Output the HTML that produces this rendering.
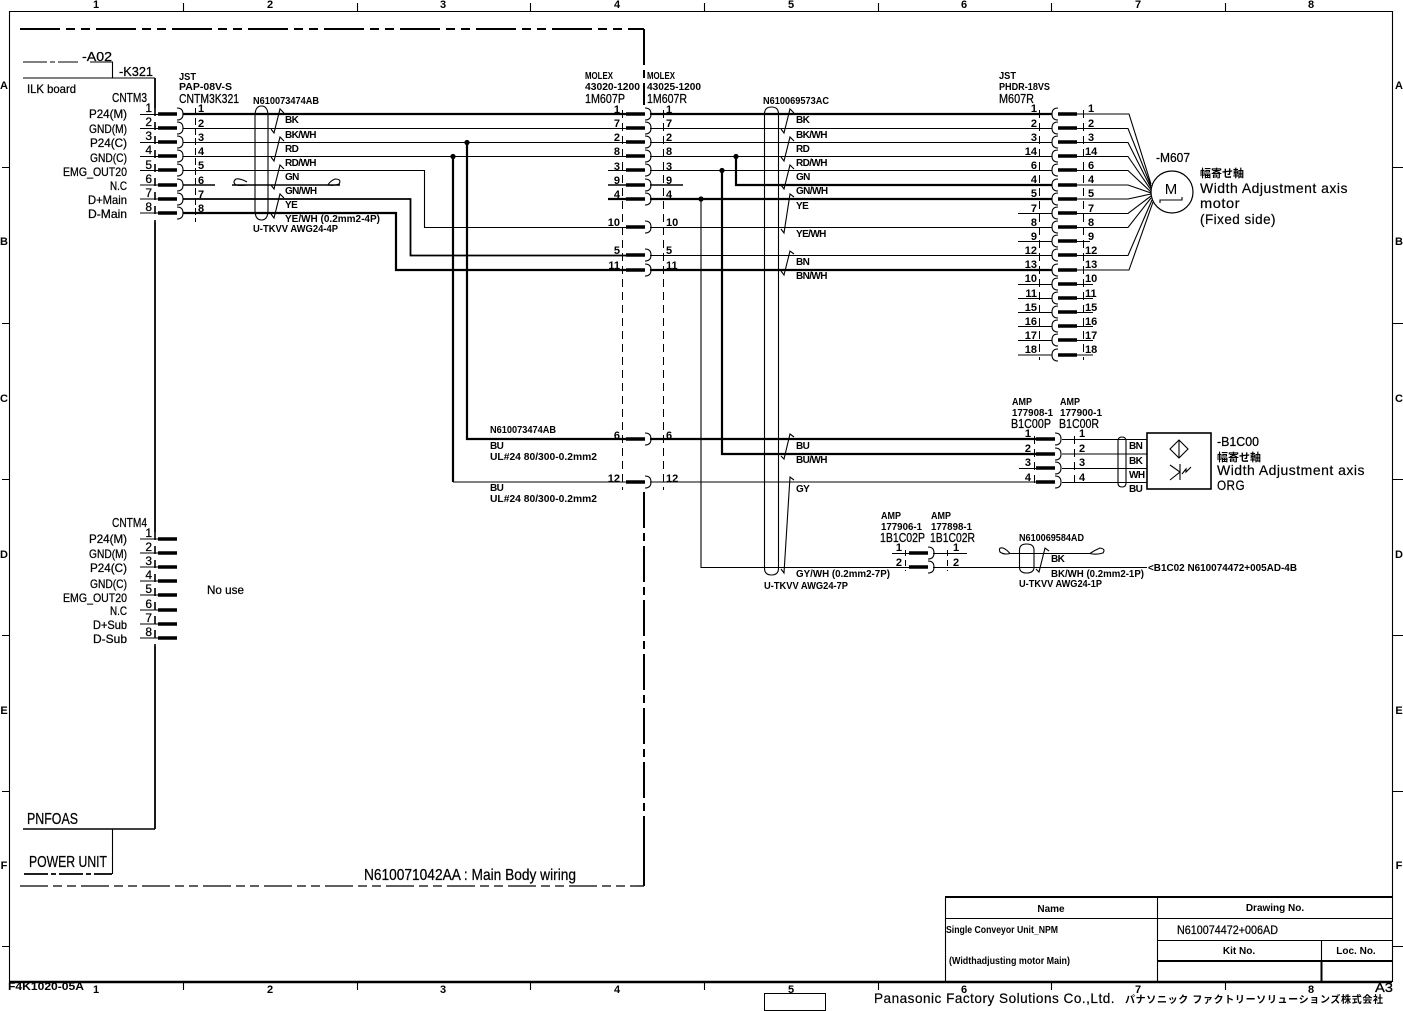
<!DOCTYPE html>
<html><head><meta charset="utf-8"><title>N610074472+006AD</title>
<style>
html,body{margin:0;padding:0;background:#fff}
svg{display:block}
text{font-family:"Liberation Sans","Noto Sans CJK JP",sans-serif;fill:#000}
.s{font-size:10px;font-weight:bold}
.p{font-size:12px;stroke:#000;stroke-width:.25}
.l{font-size:12px;stroke:#000;stroke-width:.25}
.b{font-size:14px;stroke:#000;stroke-width:.25}
.f{font-size:14px;letter-spacing:.5px;stroke:#000;stroke-width:.2}
.e{text-anchor:end}
.m{text-anchor:middle}
.t{stroke:#000;stroke-width:1.1;fill:none}
.k{stroke:#000;stroke-width:2.2;fill:none}
.d{stroke:#000;stroke-width:1;fill:none;stroke-dasharray:7 3}
.pn text{font-size:11px}
.wl text{letter-spacing:-.6px}
</style></head><body>
<svg xmlns="http://www.w3.org/2000/svg" width="1403" height="1011" viewBox="0 0 1403 1011">
<defs>
<g id="cr"><path d="M0 0H19" stroke="#000" stroke-width="3.4" fill="none"/><path d="M19-6Q25-6 25 0Q25 6 19 6" class="t"/></g>
<g id="cl"><path d="M0 0H19" stroke="#000" stroke-width="3.4" fill="none"/><path d="M0-6Q-6-6-6 0Q-6 6 0 6" class="t"/></g>
<path id="tw" d="M-3-2L0 2L6-22L10-18" class="t"/>
</defs>

<!-- frame -->
<path d="M9.5 982V11.5H1392.5V982" class="t"/>
<path d="M9 982H1392" stroke="#000" stroke-width="2.6"/>
<path d="M183.5 3V11M357.5 3V11M530.5 3V11M704.5 3V11M878.5 3V11M1051.5 3V11M1225.5 3V11M183.5 982V990M357.5 982V990M530.5 982V990M704.5 982V990M878.5 982V990M1051.5 982V990M1225.5 982V990M2 167.5H9M2 323.5H9M2 479.5H9M2 635.5H9M2 791.5H9M2 946.5H9M1392 167.5H1403M1392 323.5H1403M1392 479.5H1403M1392 635.5H1403M1392 791.5H1403M1392 946.5H1403" class="t"/>
<g class="pn">
<text class="s m" x="96" y="8">1</text><text class="s m" x="270" y="8">2</text><text class="s m" x="443" y="8">3</text><text class="s m" x="617" y="8">4</text><text class="s m" x="791" y="8">5</text><text class="s m" x="964" y="8">6</text><text class="s m" x="1138" y="8">7</text><text class="s m" x="1311" y="8">8</text>
<text class="s m" x="96" y="993">1</text><text class="s m" x="270" y="993">2</text><text class="s m" x="443" y="993">3</text><text class="s m" x="617" y="993">4</text><text class="s m" x="791" y="993">5</text><text class="s m" x="964" y="993">6</text><text class="s m" x="1138" y="993">7</text><text class="s m" x="1311" y="993">8</text>
<text class="s m" x="4" y="89">A</text><text class="s m" x="4" y="245">B</text><text class="s m" x="4" y="402">C</text><text class="s m" x="4" y="558">D</text><text class="s m" x="4" y="714">E</text><text class="s m" x="4" y="869">F</text>
<text class="s m" x="1399" y="89">A</text><text class="s m" x="1399" y="245">B</text><text class="s m" x="1399" y="402">C</text><text class="s m" x="1399" y="558">D</text><text class="s m" x="1399" y="714">E</text><text class="s m" x="1399" y="869">F</text>
</g>

<!-- body outline -->
<path d="M20 29H644" stroke="#000" stroke-width="2" fill="none" stroke-dasharray="40 6 9 6 9 6"/>
<path d="M644 29V105" stroke="#000" stroke-width="2" fill="none" stroke-dasharray="36 5 8 5"/>
<path d="M644 492V850" stroke="#000" stroke-width="2" fill="none" stroke-dasharray="36 5 8 5"/>
<path d="M644 850V886" stroke="#000" stroke-width="2" fill="none"/>
<path d="M20 886H644" stroke="#000" stroke-width="1.3" fill="none" stroke-dasharray="28 5 9 5 9 5"/>

<!-- boards -->
<path d="M23 62H47M50 62H55M58 62H78M90 62H112.5V78M23 78H155" class="t"/>
<path d="M155 78V108M155 222V532M155 646V829" stroke="#000" stroke-width="1.8" fill="none"/>
<path d="M155 108V222M155 532V646" stroke="#000" stroke-width="1.6" fill="none" stroke-dasharray="8 6"/>
<path d="M23 829H155" stroke="#000" stroke-width="1.5"/>
<path d="M112.5 829V874" class="t"/>
<path d="M24 874H112" stroke="#000" stroke-width="1.8" stroke-dasharray="24 3 5 3"/>
<text class="l" x="82" y="61" textLength="30" lengthAdjust="spacingAndGlyphs" style="font-size:13px">-A02</text>
<text class="l" x="119" y="76" textLength="34" lengthAdjust="spacingAndGlyphs" style="font-size:13px">-K321</text>
<text class="l" x="27" y="93" textLength="49" lengthAdjust="spacingAndGlyphs">ILK board</text>
<text class="l" x="112" y="102" textLength="35" lengthAdjust="spacingAndGlyphs" style="font-size:13px">CNTM3</text>
<text class="l" x="112" y="527" textLength="35" lengthAdjust="spacingAndGlyphs" style="font-size:13px">CNTM4</text>
<text class="s" x="179" y="80" textLength="17" lengthAdjust="spacingAndGlyphs">JST</text>
<text class="s" x="179" y="90" textLength="53" lengthAdjust="spacingAndGlyphs">PAP-08V-S</text>
<text class="l" x="179" y="103" textLength="60" lengthAdjust="spacingAndGlyphs" style="font-size:13px">CNTM3K321</text>
<text class="b" x="27" y="824" textLength="51" lengthAdjust="spacingAndGlyphs" style="font-size:16px">PNFOAS</text>
<text class="b" x="29" y="867" textLength="78" lengthAdjust="spacingAndGlyphs" style="font-size:16px">POWER UNIT</text>
<text class="b" x="364" y="880" textLength="212" lengthAdjust="spacingAndGlyphs" style="font-size:16px">N610071042AA : Main Body wiring</text>

<!-- CNTM3 labels -->
<g class="l">
<text class="l" x="89" y="118" textLength="38" lengthAdjust="spacingAndGlyphs">P24(M)</text>
<text class="l" x="89" y="133" textLength="38" lengthAdjust="spacingAndGlyphs">GND(M)</text>
<text class="l" x="90" y="147" textLength="37" lengthAdjust="spacingAndGlyphs">P24(C)</text>
<text class="l" x="90" y="162" textLength="37" lengthAdjust="spacingAndGlyphs">GND(C)</text>
<text class="l" x="63" y="176" textLength="64" lengthAdjust="spacingAndGlyphs">EMG_OUT20</text>
<text class="l" x="110" y="190" textLength="17" lengthAdjust="spacingAndGlyphs">N.C</text>
<text class="l" x="88" y="204" textLength="39" lengthAdjust="spacingAndGlyphs">D+Main</text>
<text class="l" x="88" y="218" textLength="39" lengthAdjust="spacingAndGlyphs">D-Main</text>
<text class="l" x="89" y="543" textLength="38" lengthAdjust="spacingAndGlyphs">P24(M)</text>
<text class="l" x="89" y="558" textLength="38" lengthAdjust="spacingAndGlyphs">GND(M)</text>
<text class="l" x="90" y="572" textLength="37" lengthAdjust="spacingAndGlyphs">P24(C)</text>
<text class="l" x="90" y="588" textLength="37" lengthAdjust="spacingAndGlyphs">GND(C)</text>
<text class="l" x="63" y="602" textLength="64" lengthAdjust="spacingAndGlyphs">EMG_OUT20</text>
<text class="l" x="110" y="615" textLength="17" lengthAdjust="spacingAndGlyphs">N.C</text>
<text class="l" x="93" y="629" textLength="34" lengthAdjust="spacingAndGlyphs">D+Sub</text>
<text class="l" x="93" y="643" textLength="34" lengthAdjust="spacingAndGlyphs">D-Sub</text>
</g>
<text class="l" x="207" y="594" textLength="37" lengthAdjust="spacingAndGlyphs">No use</text>

<!-- pin stubs CNTM -->
<path d="M140 114.5H158M140 128.5H158M140 142.5H158M140 156.5H158M140 170.5H158M140 185H158M140 199H158M140 213H158M140 539H158M140 553H158M140 567H158M140 581H158M140 595H158M140 610H158M140 624H158M140 638H158" class="t"/>
<g>
<use href="#cr" x="158" y="114"/><use href="#cr" x="158" y="128"/><use href="#cr" x="158" y="142"/><use href="#cr" x="158" y="156"/><use href="#cr" x="158" y="170"/><use href="#cr" x="158" y="185"/><use href="#cr" x="158" y="199"/><use href="#cr" x="158" y="213"/>
<path d="M158 539H177M158 553H177M158 567H177M158 581H177M158 595H177M158 610H177M158 624H177M158 638H177" stroke="#000" stroke-width="3.4"/>
</g>
<g>
<text class="p e" x="152" y="112">1</text><text class="p e" x="152" y="126">2</text><text class="p e" x="152" y="140">3</text><text class="p e" x="152" y="154">4</text><text class="p e" x="152" y="169">5</text><text class="p e" x="152" y="183">6</text><text class="p e" x="152" y="197">7</text><text class="p e" x="152" y="211">8</text>
<text class="p e" x="152" y="537">1</text><text class="p e" x="152" y="551">2</text><text class="p e" x="152" y="565">3</text><text class="p e" x="152" y="579">4</text><text class="p e" x="152" y="593">5</text><text class="p e" x="152" y="608">6</text><text class="p e" x="152" y="622">7</text><text class="p e" x="152" y="636">8</text>
</g>
<g class="pn">
<text class="s" x="198" y="112">1</text><text class="s" x="198" y="127">2</text><text class="s" x="198" y="141">3</text><text class="s" x="198" y="155">4</text><text class="s" x="198" y="169">5</text><text class="s" x="198" y="184">6</text><text class="s" x="198" y="198">7</text><text class="s" x="198" y="212">8</text>
</g>
<path d="M195.5 108V222" class="d"/>

<!-- left cable -->
<path d="M255 116Q255 106 261.5 106Q268 106 268 116V210Q268 220 261.5 220Q255 220 255 210Z" class="t"/>
<use href="#tw" x="274" y="131"/><use href="#tw" x="274" y="159"/><use href="#tw" x="274" y="187"/><use href="#tw" x="274" y="216"/>
<text class="s" x="253" y="104" textLength="66" lengthAdjust="spacingAndGlyphs">N610073474AB</text>
<text class="s" x="253" y="232" textLength="85" lengthAdjust="spacingAndGlyphs">U-TKVV AWG24-4P</text>
<g class="wl">
<text class="s" x="285" y="123">BK</text><text class="s" x="285" y="138">BK/WH</text><text class="s" x="285" y="152">RD</text><text class="s" x="285" y="166">RD/WH</text><text class="s" x="285" y="180">GN</text><text class="s" x="285" y="194">GN/WH</text><text class="s" x="285" y="208">YE</text>
</g>
<text class="s" x="285" y="222" textLength="95" lengthAdjust="spacingAndGlyphs">YE/WH (0.2mm2-4P)</text>
<path d="M247 185Q241 186 236 185Q232 182 236 179Q240 178 247 182M328 185Q330 181 335 179Q342 179 339 184Q334 186 328 185" class="t"/>

<!-- wires -->
<path d="M183 114H626M650 114H1052" class="k"/>
<path d="M183 128.5H626M650 128.5H1052M183 142.5H626M650 142.5H1052M183 156.5H626M650 156.5H1052" class="t"/>
<path d="M183 170.5H424.5V227.5H626M608 170.5H626M650 170.5H1052" class="t"/>
<path d="M183 185H215M232 185H340" class="t" style="stroke-width:1.5"/>
<path d="M608 185H626M650 185H683" stroke="#000" stroke-width="1.5"/>
<path d="M183 199H410.5V255.5H626" stroke="#000" stroke-width="1.8" fill="none"/>
<path d="M183 213H396V270H626M650 270H1052" class="k"/>
<path d="M608 199H626M650 199H1052" class="k"/>
<path d="M650 227.5H1052M650 255.5H1052" class="t"/>
<path d="M736 156.5V185H1052" class="k"/>
<path d="M467 142.5V439H626M650 439H1036" class="k"/>
<path d="M453 156.5V482" class="k"/>
<path d="M453 482H626M650 482H1036" class="t"/>
<path d="M722 170.5V454H1036" class="k"/>
<path d="M701 199V567.5H909M933 567.5H1147" class="t"/>
<circle cx="453" cy="156.5" r="2.6"/><circle cx="467" cy="142.5" r="2.6"/><circle cx="736" cy="156.5" r="2.6"/><circle cx="722" cy="170.5" r="2.6"/><circle cx="701" cy="199" r="2.6"/>

<!-- 1M607 -->
<use href="#cr" x="626" y="114"/><use href="#cr" x="626" y="128"/><use href="#cr" x="626" y="142"/><use href="#cr" x="626" y="156"/><use href="#cr" x="626" y="170"/><use href="#cr" x="626" y="185"/><use href="#cr" x="626" y="199"/><use href="#cr" x="626" y="227"/><use href="#cr" x="626" y="255"/><use href="#cr" x="626" y="270"/><use href="#cr" x="626" y="439"/><use href="#cr" x="626" y="482"/>
<path d="M622.5 110V490M663.5 110V490" class="d" style="stroke-dasharray:8 5"/>
<text class="s" x="585" y="79" textLength="28" lengthAdjust="spacingAndGlyphs">MOLEX</text><text class="s" x="585" y="90" textLength="55" lengthAdjust="spacingAndGlyphs">43020-1200</text>
<text class="l" x="585" y="103" textLength="40" lengthAdjust="spacingAndGlyphs" style="font-size:13px">1M607P</text>
<text class="s" x="647" y="79" textLength="28" lengthAdjust="spacingAndGlyphs">MOLEX</text><text class="s" x="647" y="90" textLength="54" lengthAdjust="spacingAndGlyphs">43025-1200</text>
<text class="l" x="647" y="103" textLength="40" lengthAdjust="spacingAndGlyphs" style="font-size:13px">1M607R</text>
<g class="pn">
<text class="s e" x="620" y="113">1</text><text class="s e" x="620" y="127">7</text><text class="s e" x="620" y="141">2</text><text class="s e" x="620" y="155">8</text><text class="s e" x="620" y="170">3</text><text class="s e" x="620" y="184">9</text><text class="s e" x="620" y="198">4</text><text class="s e" x="620" y="226">10</text><text class="s e" x="620" y="254">5</text><text class="s e" x="620" y="269">11</text><text class="s e" x="620" y="439">6</text><text class="s e" x="620" y="482">12</text>
<text class="s" x="666" y="113">1</text><text class="s" x="666" y="127">7</text><text class="s" x="666" y="141">2</text><text class="s" x="666" y="155">8</text><text class="s" x="666" y="170">3</text><text class="s" x="666" y="184">9</text><text class="s" x="666" y="198">4</text><text class="s" x="666" y="226">10</text><text class="s" x="666" y="254">5</text><text class="s" x="666" y="269">11</text><text class="s" x="666" y="439">6</text><text class="s" x="666" y="482">12</text>
</g>

<!-- mid notes -->
<text class="s" x="490" y="433" textLength="66" lengthAdjust="spacingAndGlyphs">N610073474AB</text>
<g class="wl"><text class="s" x="490" y="449">BU</text><text class="s" x="490" y="491">BU</text></g>
<text class="s" x="490" y="460" textLength="107" lengthAdjust="spacingAndGlyphs">UL#24 80/300-0.2mm2</text>
<text class="s" x="490" y="502" textLength="107" lengthAdjust="spacingAndGlyphs">UL#24 80/300-0.2mm2</text>

<!-- main cable -->
<path d="M764.5 114Q764.5 107 771.5 107Q778.5 107 778.5 114V568Q778.5 575 771.5 575Q764.5 575 764.5 568Z" class="t"/>
<use href="#tw" x="784" y="131"/><use href="#tw" x="784" y="159"/><use href="#tw" x="784" y="187"/>
<path d="M781 229L784 233L790 194L794 197" class="t"/>
<path d="M781 271L784 275L790 251L794 254" class="t"/>
<path d="M781 456L784 459L790 434L794 437" class="t"/>
<path d="M781 569L784 573L790 477L794 480" class="t"/>
<text class="s" x="763" y="104" textLength="66" lengthAdjust="spacingAndGlyphs">N610069573AC</text>
<g class="wl">
<text class="s" x="796" y="123">BK</text><text class="s" x="796" y="138">BK/WH</text><text class="s" x="796" y="152">RD</text><text class="s" x="796" y="166">RD/WH</text><text class="s" x="796" y="180">GN</text><text class="s" x="796" y="194">GN/WH</text><text class="s" x="796" y="209">YE</text><text class="s" x="796" y="237">YE/WH</text><text class="s" x="796" y="265">BN</text><text class="s" x="796" y="279">BN/WH</text><text class="s" x="796" y="449">BU</text><text class="s" x="796" y="463">BU/WH</text><text class="s" x="796" y="492">GY</text>
</g>
<text class="s" x="796" y="577" textLength="94" lengthAdjust="spacingAndGlyphs">GY/WH (0.2mm2-7P)</text>
<text class="s" x="764" y="589" textLength="84" lengthAdjust="spacingAndGlyphs">U-TKVV AWG24-7P</text>

<!-- M607R -->
<text class="s" x="999" y="79" textLength="17" lengthAdjust="spacingAndGlyphs">JST</text><text class="s" x="999" y="90" textLength="51" lengthAdjust="spacingAndGlyphs">PHDR-18VS</text>
<text class="l" x="999" y="103" textLength="35" lengthAdjust="spacingAndGlyphs" style="font-size:13px">M607R</text>
<path d="M1018 213.5H1052M1018 241.5H1052M1018 284.5H1052M1018 298.5H1052M1018 312.5H1052M1018 326.5H1052M1018 340.5H1052M1018 355H1052" class="t"/>
<path d="M1018 227.5H1052" class="t"/>
<g>
<use href="#cl" x="1058" y="114"/><use href="#cl" x="1058" y="128"/><use href="#cl" x="1058" y="142"/><use href="#cl" x="1058" y="156"/><use href="#cl" x="1058" y="170"/><use href="#cl" x="1058" y="185"/><use href="#cl" x="1058" y="199"/><use href="#cl" x="1058" y="213"/><use href="#cl" x="1058" y="227"/><use href="#cl" x="1058" y="241"/><use href="#cl" x="1058" y="255"/><use href="#cl" x="1058" y="270"/><use href="#cl" x="1058" y="284"/><use href="#cl" x="1058" y="298"/><use href="#cl" x="1058" y="312"/><use href="#cl" x="1058" y="326"/><use href="#cl" x="1058" y="340"/><use href="#cl" x="1058" y="355"/>
</g>
<path d="M1039.5 110V360M1083.5 110V360" class="d" style="stroke-dasharray:8 5"/>
<g class="pn">
<text class="s e" x="1037" y="112">1</text><text class="s e" x="1037" y="127">2</text><text class="s e" x="1037" y="141">3</text><text class="s e" x="1037" y="155">14</text><text class="s e" x="1037" y="169">6</text><text class="s e" x="1037" y="183">4</text><text class="s e" x="1037" y="197">5</text><text class="s e" x="1037" y="212">7</text><text class="s e" x="1037" y="226">8</text><text class="s e" x="1037" y="240">9</text><text class="s e" x="1037" y="254">12</text><text class="s e" x="1037" y="268">13</text><text class="s e" x="1037" y="282">10</text><text class="s e" x="1037" y="297">11</text><text class="s e" x="1037" y="311">15</text><text class="s e" x="1037" y="325">16</text><text class="s e" x="1037" y="339">17</text><text class="s e" x="1037" y="353">18</text>
<text class="s" x="1088" y="112">1</text><text class="s" x="1088" y="127">2</text><text class="s" x="1088" y="141">3</text><text class="s" x="1085" y="155">14</text><text class="s" x="1088" y="169">6</text><text class="s" x="1088" y="183">4</text><text class="s" x="1088" y="197">5</text><text class="s" x="1088" y="212">7</text><text class="s" x="1088" y="226">8</text><text class="s" x="1088" y="240">9</text><text class="s" x="1085" y="254">12</text><text class="s" x="1085" y="268">13</text><text class="s" x="1085" y="282">10</text><text class="s" x="1085" y="297">11</text><text class="s" x="1085" y="311">15</text><text class="s" x="1085" y="325">16</text><text class="s" x="1085" y="339">17</text><text class="s" x="1085" y="353">18</text>
</g>
<path d="M1077 114H1129L1151 184M1077 128.5H1128L1151 186M1077 142.5H1128L1151 188M1077 156.5H1128L1151 190M1077 170.5H1128L1151 192M1077 185H1128L1151 193M1077 199H1128L1151 194M1077 213.5H1128L1151 196M1077 227.5H1128L1151 198M1077 255.5H1128L1152 200M1077 270H1129L1153 202M1077 241.5H1090M1077 284.5H1093M1077 298.5H1093M1077 312.5H1093M1077 326.5H1093M1077 340.5H1093M1077 355H1093" class="t"/>
<circle cx="1172" cy="192" r="21" fill="#fff" stroke="#000" stroke-width="1.2"/>
<text class="m" x="1171" y="194" style="font-size:15px">M</text>
<path d="M1160 203V200H1182V197" class="t"/>
<text class="l" x="1156" y="162" textLength="34" lengthAdjust="spacingAndGlyphs" style="font-size:13px">-M607</text>
<text x="1200" y="177" style="font-size:11px;font-weight:bold">幅寄せ軸</text>
<text class="f" x="1200" y="193" textLength="148" lengthAdjust="spacingAndGlyphs">Width Adjustment axis</text>
<text class="f" x="1200" y="208" textLength="40" lengthAdjust="spacingAndGlyphs">motor</text>
<text class="f" x="1200" y="224" textLength="76" lengthAdjust="spacingAndGlyphs">(Fixed side)</text>

<!-- B1C00 -->
<text class="s" x="1012" y="405" textLength="20" lengthAdjust="spacingAndGlyphs">AMP</text><text class="s" x="1060" y="405" textLength="20" lengthAdjust="spacingAndGlyphs">AMP</text>
<text class="s" x="1012" y="416" textLength="41" lengthAdjust="spacingAndGlyphs">177908-1</text>
<text class="s" x="1060" y="416" textLength="42" lengthAdjust="spacingAndGlyphs">177900-1</text>
<text class="l" x="1011" y="428" textLength="40" lengthAdjust="spacingAndGlyphs" style="font-size:13px">B1C00P</text>
<text class="l" x="1059" y="428" textLength="40" lengthAdjust="spacingAndGlyphs" style="font-size:13px">B1C00R</text>
<use href="#cr" x="1036" y="439"/><use href="#cr" x="1036" y="454"/><use href="#cr" x="1036" y="468"/><use href="#cr" x="1036" y="482"/>
<path d="M1034.5 436V486M1074.5 436V486" class="d" style="stroke-dasharray:8 5"/>
<path d="M1019 468.5H1036M1062 439.5H1147M1062 454H1147M1062 468.5H1147M1062 482.5H1147" class="t"/>
<g class="pn">
<text class="s e" x="1031" y="437">1</text><text class="s e" x="1031" y="452">2</text><text class="s e" x="1031" y="466">3</text><text class="s e" x="1031" y="481">4</text>
<text class="s" x="1079" y="437">1</text><text class="s" x="1079" y="452">2</text><text class="s" x="1079" y="466">3</text><text class="s" x="1079" y="481">4</text>
</g>
<path d="M1118 441Q1118 437 1122 437Q1126 437 1126 441V483Q1126 487 1122 487Q1118 487 1118 483Z" class="t"/>
<g class="wl">
<text class="s" x="1129" y="449">BN</text><text class="s" x="1129" y="464">BK</text><text class="s" x="1129" y="478">WH</text><text class="s" x="1129" y="492">BU</text>
</g>
<rect x="1147" y="433" width="64" height="56" fill="#fff" stroke="#000" stroke-width="1.6"/>
<path d="M1179 440L1188 449L1179 458L1170 449ZM1179 440V458" class="t"/>
<path d="M1170 465L1180 472L1170 480M1180 464V480M1182 474L1186 469L1186 472L1191 467" class="t"/>
<text class="l" x="1217" y="446" textLength="42" lengthAdjust="spacingAndGlyphs" style="font-size:13px">-B1C00</text>
<text x="1217" y="461" style="font-size:11px;font-weight:bold">幅寄せ軸</text>
<text class="f" x="1217" y="475" textLength="148" lengthAdjust="spacingAndGlyphs">Width Adjustment axis</text>
<text class="f" x="1217" y="490" textLength="28" lengthAdjust="spacingAndGlyphs">ORG</text>

<!-- B1C02 -->
<text class="s" x="881" y="519" textLength="20" lengthAdjust="spacingAndGlyphs">AMP</text><text class="s" x="931" y="519" textLength="20" lengthAdjust="spacingAndGlyphs">AMP</text>
<text class="s" x="881" y="530" textLength="41" lengthAdjust="spacingAndGlyphs">177906-1</text>
<text class="s" x="931" y="530" textLength="41" lengthAdjust="spacingAndGlyphs">177898-1</text>
<text class="l" x="880" y="542" textLength="45" lengthAdjust="spacingAndGlyphs" style="font-size:13px">1B1C02P</text>
<text class="l" x="930" y="542" textLength="45" lengthAdjust="spacingAndGlyphs" style="font-size:13px">1B1C02R</text>
<use href="#cr" x="909" y="553"/><use href="#cr" x="909" y="567"/>
<path d="M892 553.5H909M933 553.5H967" class="t"/>
<path d="M905.5 550V571M947.5 550V571" class="d" style="stroke-dasharray:6 4"/>
<g class="pn">
<text class="s e" x="902" y="551">1</text><text class="s e" x="902" y="566">2</text><text class="s" x="953" y="551">1</text><text class="s" x="953" y="566">2</text>
</g>
<path d="M1010 553.5Q1004 555 1000 552Q998 547 1003 548Q1006 549 1010 553.5H1090Q1096 555 1103 553Q1106 549 1100 548Q1095 550 1090 553.5" class="t"/>
<path d="M1019.5 550Q1019.5 544 1026.5 544Q1034 544 1034 550V567Q1034 573 1026.5 573Q1019.5 573 1019.5 567Z" class="t"/>
<path d="M1036 569L1039 572L1045 548L1049 551" class="t"/>
<text class="s" x="1019" y="541" textLength="65" lengthAdjust="spacingAndGlyphs">N610069584AD</text>
<g class="wl"><text class="s" x="1051" y="562">BK</text></g>
<text class="s" x="1051" y="577" textLength="93" lengthAdjust="spacingAndGlyphs">BK/WH (0.2mm2-1P)</text>
<text class="s" x="1019" y="587" textLength="83" lengthAdjust="spacingAndGlyphs">U-TKVV AWG24-1P</text>
<text class="s" x="1148" y="571" textLength="149" lengthAdjust="spacingAndGlyphs">&lt;B1C02  N610074472+005AD-4B</text>

<!-- title block -->
<path d="M945 897H1392" stroke="#000" stroke-width="2"/>
<path d="M945.5 897V981M1157.5 897V981M945 918.5H1392M1157 940.5H1392M1321.5 940V981" class="t"/>
<path d="M1157 961H1392" stroke="#000" stroke-width="2"/>
<path d="M1321.5 961V981" stroke="#000" stroke-width="2"/>
<text class="s m" x="1051" y="912">Name</text>
<text class="s m" x="1275" y="911">Drawing No.</text>
<text class="s" x="946" y="933" textLength="112" lengthAdjust="spacingAndGlyphs">Single Conveyor Unit_NPM</text>
<text class="l" x="1177" y="934" textLength="101" lengthAdjust="spacingAndGlyphs">N610074472+006AD</text>
<text class="s m" x="1239" y="954">Kit No.</text>
<text class="s m" x="1356" y="954">Loc. No.</text>
<text class="s" x="949" y="964" textLength="121" lengthAdjust="spacingAndGlyphs">(Widthadjusting motor Main)</text>

<!-- footer -->
<text class="s" x="8" y="990" textLength="76" lengthAdjust="spacingAndGlyphs" style="font-size:11px">F4K1020-05A</text>
<text class="l" x="1375" y="992" textLength="18" lengthAdjust="spacingAndGlyphs" style="font-size:13px">A3</text>
<rect x="764.5" y="993.5" width="61" height="17" fill="none" stroke="#000" stroke-width="1"/>
<text class="f" x="874" y="1003" textLength="241" lengthAdjust="spacingAndGlyphs">Panasonic Factory Solutions Co.,Ltd.</text>
<text x="1125" y="1003" textLength="258" lengthAdjust="spacing" style="font-size:10px;font-weight:bold">パナソニック ファクトリーソリューションズ株式会社</text>
</svg>
</body></html>
